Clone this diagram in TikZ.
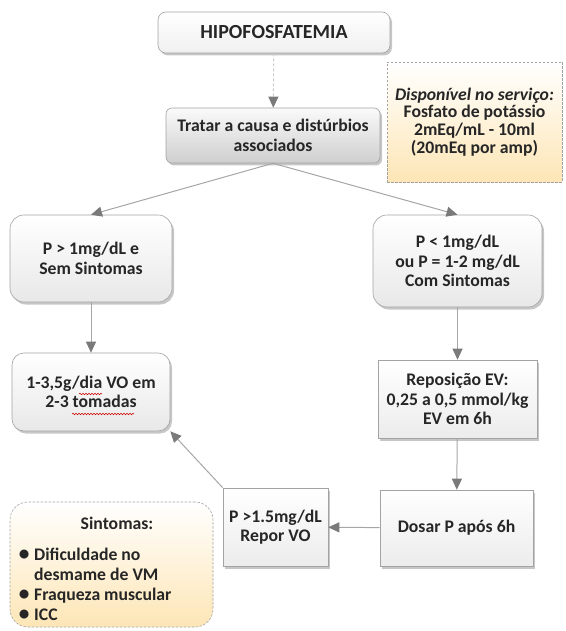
\documentclass[tikz,border=0pt]{standalone}
\usepackage{fontspec}
\setmainfont{Carlito}
\usetikzlibrary{arrows.meta,shadows,decorations.pathmorphing}

\definecolor{edgegray}{HTML}{A6A6A6}
\definecolor{tipgray}{HTML}{7A7A7A}
\definecolor{boxline}{HTML}{A3A3A3}
\definecolor{txt}{HTML}{262626}
\definecolor{cream}{HTML}{FDE6B6}

\tikzset{
  boxbase/.style={draw=boxline, line width=0.6pt, align=center,
    font=\fontsize{17.7}{19.5}\selectfont\bfseries, text=txt, inner sep=0pt},
  softshadow/.style={drop shadow={shadow xshift=2pt, shadow yshift=-2.5pt,
    opacity=0.22, fill=black}},
  roundbox/.style={boxbase, rounded corners=#1, top color=white,
    bottom color=gray!18, softshadow},
  titlebox/.style={boxbase, rounded corners=8pt, top color=white,
    bottom color=gray!12, softshadow, font=\fontsize{20}{22}\selectfont\bfseries},
  darkbox/.style={boxbase, rounded corners=6pt, top color=gray!4,
    bottom color=gray!38, softshadow, font=\fontsize{17.7}{20}\selectfont\bfseries},
  plainbox/.style={boxbase, top color=white, bottom color=gray!15, softshadow},
  notebox/.style={boxbase, dashed, dash pattern=on 2.5pt off 1.5pt,
    top color=white, bottom color=cream},
  plaintext/.style={inner sep=0pt, text=txt,
    font=\fontsize{17.7}{20}\selectfont\bfseries},
  link/.style={draw=edgegray, line width=1pt,
    -{Triangle[length=11pt,width=10pt,color=tipgray]}},
  dashlink/.style={link, draw=gray!40, dash pattern=on 3pt off 2pt},
  squig/.style={draw=red!80!black, line width=0.5pt,
    decorate, decoration={snake, amplitude=0.8pt, segment length=3pt}},
}
\newcommand\bigbullet{\makebox[10pt][c]{\raisebox{0.5pt}{\scalebox{1.2}{\textbullet}}}}

\begin{document}
\begin{tikzpicture}[x=1pt, y=-1pt]
  \useasboundingbox (0,0) rectangle (565,631);

  % boxes
  \node[titlebox, minimum width=232pt, minimum height=41pt] (title) at (274,32.5) {HIPOFOSFATEMIA};
  \node[darkbox, minimum width=214pt, minimum height=55pt] (treat) at (273,135.5)
    {Tratar a causa e distúrbios\\associados};
  \node[notebox, minimum width=175pt, minimum height=120pt,
        font=\fontsize{17.7}{17.7}\selectfont\bfseries] (avail) at (474.5,122)
    {\textit{Disponível no serviço:}\\Fosfato de potássio\\2mEq/mL - 10ml\\(20mEq por amp)};

  \node[roundbox=14pt, minimum width=162pt, minimum height=87pt] (mild) at (91,258.5)
    {P > 1mg/dL e\\Sem Sintomas};
  \node[roundbox=14pt, minimum width=169pt, minimum height=92pt] (severe) at (457.5,261)
    {P < 1mg/dL\\ou P = 1-2 mg/dL\\Com Sintomas};

  \node[roundbox=12pt, minimum width=158pt, minimum height=78pt] (oral) at (91,392)
    {1-3,5g/dia VO em\\2-3 tomadas};
  \node[plainbox, minimum width=159pt, minimum height=78pt] (iv) at (457.5,399)
    {Reposição EV:\\0,25 a 0,5 mmol/kg\\EV em 6h};
  \node[plainbox, minimum width=153pt, minimum height=76pt] (check) at (456.5,528)
    {Dosar P após 6h};
  \node[plainbox, minimum width=105pt, minimum height=78pt] (switch) at (275.5,527)
    {P >1.5mg/dL\\Repor VO};

  % symptom note: frame, heading and list
  \node[notebox, rounded corners=18pt, minimum width=203pt, minimum height=125pt] (symptoms) at (111.5,564.5) {};
  \node[plaintext] (symhead) at (117,523) {Sintomas:};
  \node[plaintext, anchor=north west] (symlist) at (19,546.5)
    {\begin{tabular}{@{}l@{\hspace{5pt}}l@{}}
       \bigbullet & Dificuldade no\\
                  & desmame de VM\\
       \bigbullet & Fraqueza muscular\\
       \bigbullet & ICC
     \end{tabular}};

  % spell-check marks under two words
  \draw[squig] ([xshift=-12pt, yshift=-2pt]oral.center) -- ++(23pt,0);
  \draw[squig] ([xshift=-19pt, yshift=-22pt]oral.center) -- ++(62pt,0);

  % connectors
  \draw[dashlink] (title) -- (treat);
  \draw[link] (treat.south) -- (mild.north);
  \draw[link] (treat.south) -- (severe.north);
  \draw[link] (mild) -- (oral);
  \draw[link] (severe) -- (iv);
  \draw[link] (iv) -- (check);
  \draw[link] (check) -- (switch);
  \draw[link] (switch.north west) -- (oral.south east);
\end{tikzpicture}
\end{document}
